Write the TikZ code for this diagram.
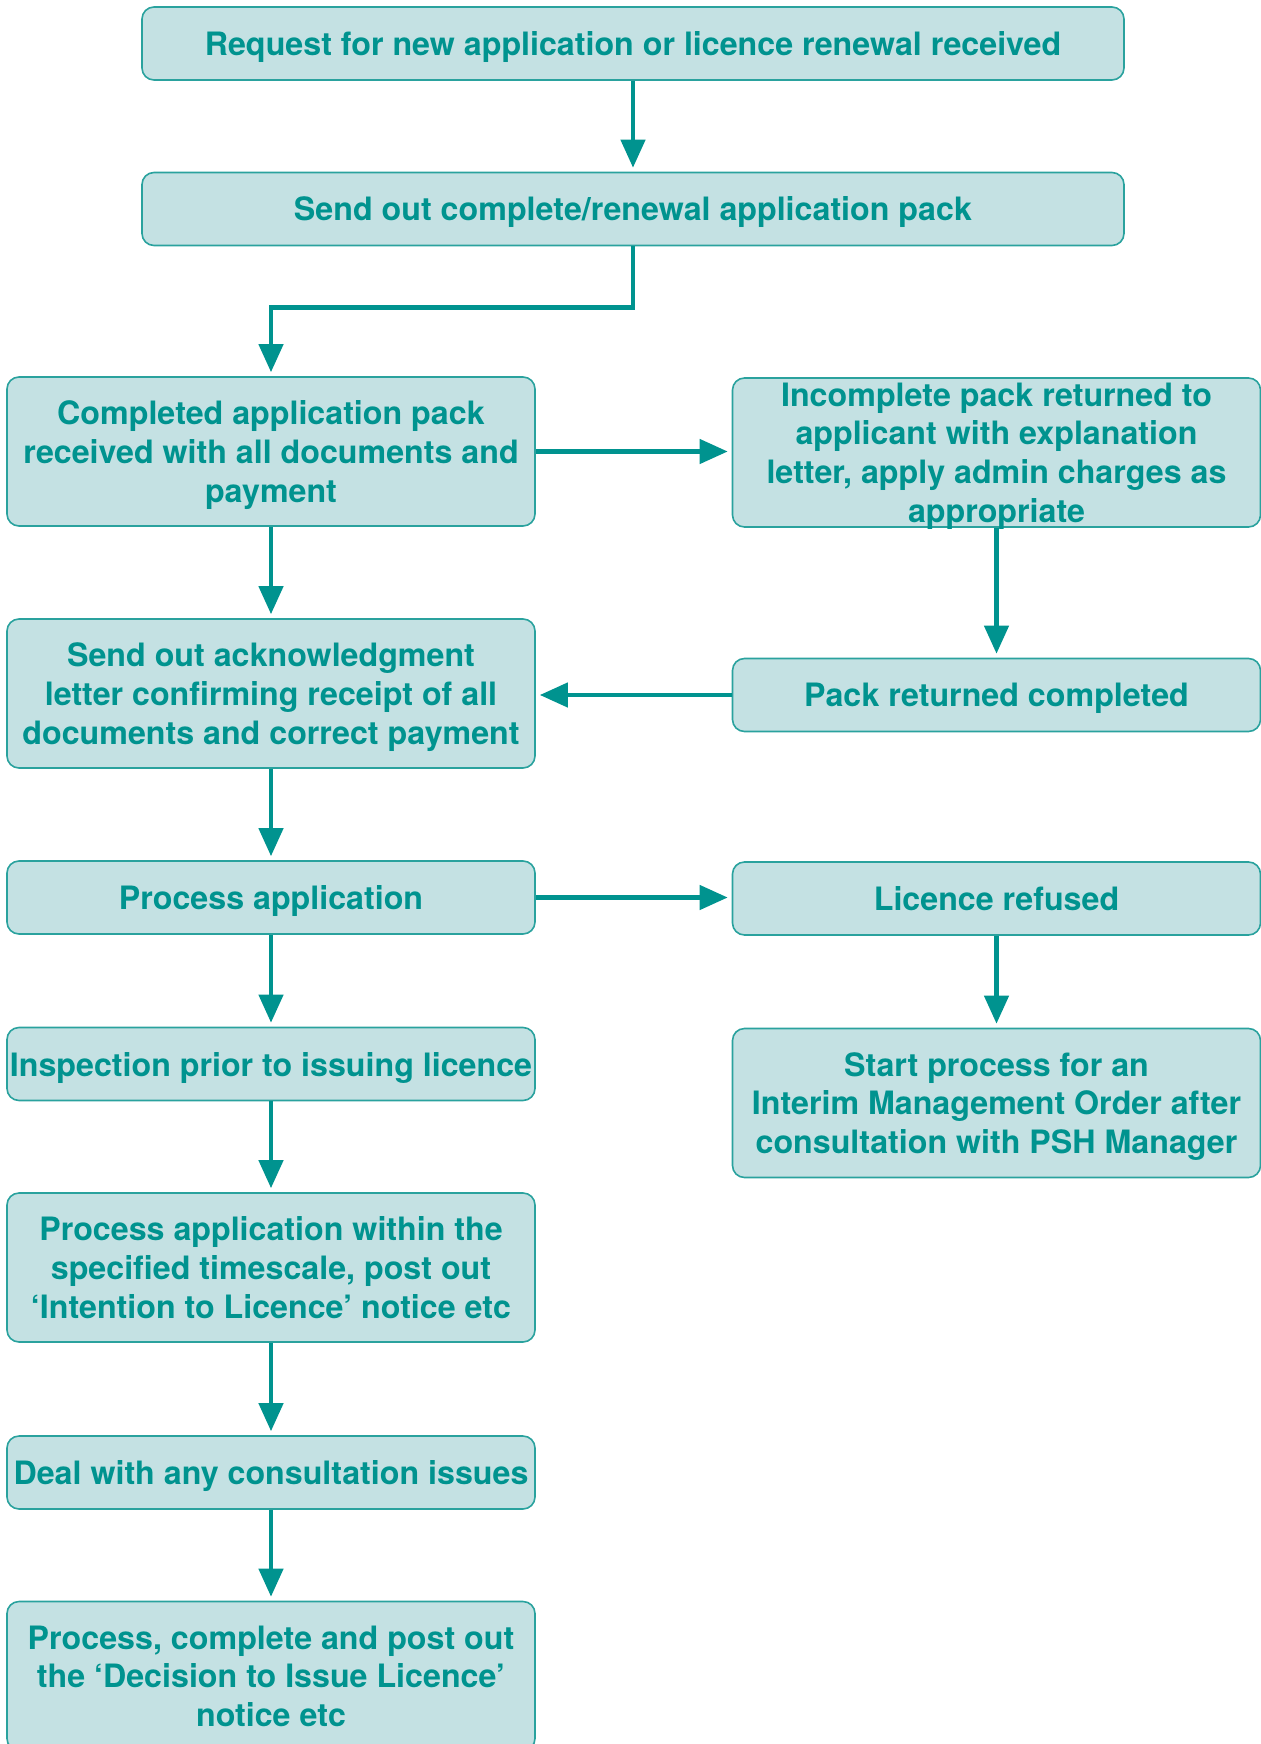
\documentclass[tikz,border=0pt]{standalone}
\usepackage{fontspec}
\setmainfont{TeX Gyre Heros}
\usetikzlibrary{arrows.meta}
\definecolor{tealtext}{HTML}{00938F}
\definecolor{tealfill}{HTML}{C4E1E3}
\definecolor{tealline}{HTML}{2AA29E}
\begin{document}
\begin{tikzpicture}[x=0.5pt,y=-0.5pt,
    box/.style={draw=tealline,line width=0.8pt,fill=tealfill,rounded corners=6pt,text=tealtext,
        font=\bfseries\fontsize{16.1}{19.3}\selectfont,align=center,inner sep=0pt,text depth=0pt},
    wide/.style={box,minimum width=491pt,minimum height=36.5pt},
    small/.style={box,minimum width=264pt,minimum height=36.5pt},
    tall/.style={box,minimum width=264pt,minimum height=74.5pt},
    flow/.style={draw=tealtext,line width=2.2pt,-{Triangle[length=14pt,width=12pt]},shorten >=2pt}]
    \useasboundingbox (0,0) rectangle (1261,1744);

    \node[wide] (request) at (633,43.5) {Request for new application or licence renewal received};
    \node[wide] (send) at (633,209) {Send out complete/renewal application pack};
    \node[tall] (complete) at (271,451.5) {Completed application pack\\received with all documents and\\payment};
    \node[tall] (incomplete) at (996.5,452.5) {Incomplete pack returned to\\applicant with explanation\\letter, apply admin charges as\\appropriate};
    \node[tall] (ack) at (271,693.5) {Send out acknowledgment\\letter confirming receipt of all\\documents and correct payment};
    \node[small] (returned) at (996.5,695) {Pack returned completed};
    \node[small] (process) at (271,897.5) {Process application};
    \node[small] (refused) at (996.5,898.5) {Licence refused};
    \node[small] (inspect) at (271,1064) {Inspection prior to issuing licence};
    \node[tall] (interim) at (996.5,1103) {Start process for an\\Interim Management Order after\\consultation with PSH Manager};
    \node[tall] (timescale) at (271,1267.5) {Process application within the\\specified timescale, post out\\‘Intention to Licence’ notice etc};
    \node[small] (consult) at (271,1472.5) {Deal with any consultation issues};
    \node[tall] (decision) at (271,1676) {Process, complete and post out\\the ‘Decision to Issue Licence’\\notice etc};

    \draw[flow] (request) -- (send);
    \draw[flow] (send.south) -- ++(0,61) -| (complete.north);
    \draw[flow] (complete.east) -- (complete.east -| incomplete.west);
    \draw[flow] (incomplete) -- (returned);
    \draw[flow] (returned.west) -- (returned.west -| ack.east);
    \draw[flow] (complete) -- (ack);
    \draw[flow] (ack) -- (process);
    \draw[flow] (process.east) -- (process.east -| refused.west);
    \draw[flow] (refused) -- (interim);
    \draw[flow] (process) -- (inspect);
    \draw[flow] (inspect) -- (timescale);
    \draw[flow] (timescale) -- (consult);
    \draw[flow] (consult) -- (decision);
\end{tikzpicture}
\end{document}
